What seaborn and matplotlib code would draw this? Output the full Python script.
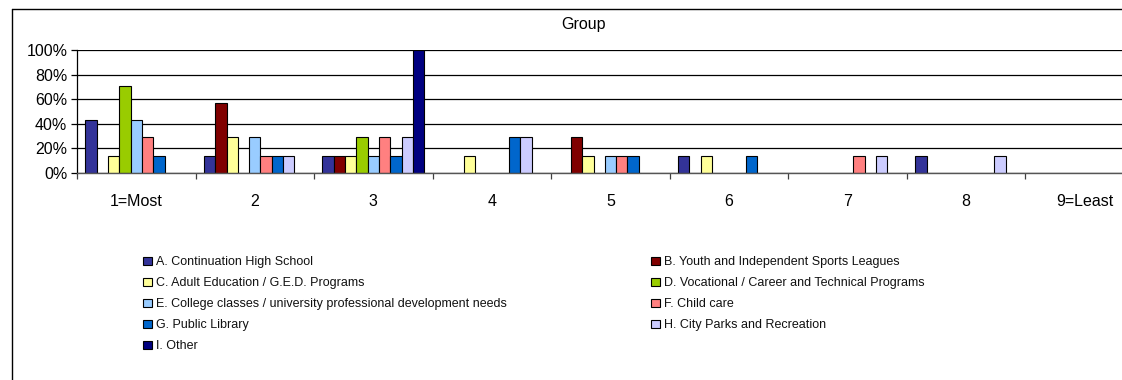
import matplotlib
matplotlib.use("Agg")
import matplotlib.pyplot as plt
from matplotlib.patches import Patch
from matplotlib.lines import Line2D
from matplotlib.ticker import FixedLocator, FuncFormatter
import numpy as np
import pandas as pd
import seaborn as sns

# Ranking categories (x axis)
ranks = ["1=Most", "2", "3", "4", "5", "6", "7", "8", "9=Least"]

# Programs being ranked
items = [
    "A. Continuation High School",
    "B. Youth and Independent Sports Leagues",
    "C. Adult Education / G.E.D. Programs",
    "D. Vocational / Career and Technical Programs",
    "E. College classes / university professional development needs",
    "F. Child care",
    "G. Public Library",
    "H. City Parks and Recreation",
    "I. Other",
]

# Share of respondents (%) giving each rank, one list per program
share_a = [43, 14, 14, 0, 0, 14, 0, 14, 0]
share_b = [0, 57, 14, 0, 29, 0, 0, 0, 0]
share_c = [14, 29, 14, 14, 14, 14, 0, 0, 0]
share_d = [71, 0, 29, 0, 0, 0, 0, 0, 0]
share_e = [43, 29, 14, 0, 14, 0, 0, 0, 0]
share_f = [29, 14, 29, 0, 14, 0, 14, 0, 0]
share_g = [14, 14, 14, 29, 14, 14, 0, 0, 0]
share_h = [0, 14, 29, 29, 0, 0, 14, 14, 0]
share_i = [0, 0, 100, 0, 0, 0, 0, 0, 0]

colors = ["#333399", "#800000", "#FFFF99", "#99CC00", "#99CCFF",
          "#FF8080", "#0066CC", "#CCCCFF", "#000080"]

series = [share_a, share_b, share_c, share_d, share_e,
          share_f, share_g, share_h, share_i]
df = pd.DataFrame(
    [(r, it, v) for it, vals in zip(items, series) for r, v in zip(ranks, vals)],
    columns=["rank", "item", "share"],
)

sns.set_theme(style="white")
plt.rcParams["font.family"] = ["Liberation Sans", "DejaVu Sans"]

W, H = 1122, 380
fig = plt.figure(figsize=(W / 100, H / 100), dpi=100)
fig.patch.set_facecolor("white")

# Plot area (extends a little past the right edge of the canvas)
x0, x1, ytop, ybot = 77, 1144, 50, 173
ax = fig.add_axes([x0 / W, 1 - ybot / H, (x1 - x0) / W, (ybot - ytop) / H])

sns.barplot(
    data=df, x="rank", y="share", hue="item",
    order=ranks, hue_order=items, palette=colors, saturation=1,
    width=0.86, edgecolor="black", linewidth=0.8,
    errorbar=None, legend=False, ax=ax,
)
for p in ax.patches:
    if p.get_height() == 0:
        p.set_visible(False)

ax.set_xlim(-0.5, len(ranks) - 0.5)
ax.set_ylim(0, 100)
ax.set_xlabel("")
ax.set_ylabel("")

ax.yaxis.set_major_locator(FixedLocator([0, 20, 40, 60, 80, 100]))
ax.yaxis.set_major_formatter(FuncFormatter(lambda v, _: f"{v:.0f}%"))
ax.grid(axis="y", color="black", linewidth=0.9)
ax.set_axisbelow(True)

ax.xaxis.set_minor_locator(FixedLocator(np.arange(-0.5, len(ranks), 1.0)))
ax.tick_params(axis="x", which="major", length=0, pad=15, labelsize=11.5, colors="black")
ax.tick_params(axis="x", which="minor", bottom=True, length=4, width=0.9,
               color="#404040", direction="out")
ax.tick_params(axis="y", which="major", length=4, width=0.9, color="black",
               direction="out", labelsize=11.5, labelcolor="black", left=True, pad=3)

for side in ["top", "right"]:
    ax.spines[side].set_visible(False)
ax.spines["left"].set_color("black")
ax.spines["left"].set_linewidth(0.9)
ax.spines["bottom"].set_color("#555555")
ax.spines["bottom"].set_linewidth(1.0)

# Chart title
fig.text(583 / W, 1 - 24 / H, "Group", ha="center", va="center",
         fontsize=11.5, color="black")

# Outer chart frame (top and left edges)
fy = 1 - 8.5 / H
fx = 11.5 / W
fig.add_artist(Line2D([fx, 1.0], [fy, fy], transform=fig.transFigure,
                      color="black", linewidth=1.0))
fig.add_artist(Line2D([fx, fx], [0.0, fy], transform=fig.transFigure,
                      color="black", linewidth=1.0))

# Legend laid out in two columns
handles = [Patch(facecolor=c, edgecolor="black", linewidth=0.8) for c in colors]
left_idx = [0, 2, 4, 6, 8]
right_idx = [1, 3, 5, 7]
common = dict(frameon=False, fontsize=9, borderpad=0, handlelength=0.7,
              handleheight=0.7, handletextpad=0.35, labelspacing=0.72,
              loc="upper left", labelcolor="#111111")
fig.legend([handles[i] for i in left_idx], [items[i] for i in left_idx],
           bbox_to_anchor=(137 / W, 1 - 250 / H), **common)
fig.legend([handles[i] for i in right_idx], [items[i] for i in right_idx],
           bbox_to_anchor=(645 / W, 1 - 250 / H), **common)

fig.savefig("out.png", dpi=100, facecolor="white")
